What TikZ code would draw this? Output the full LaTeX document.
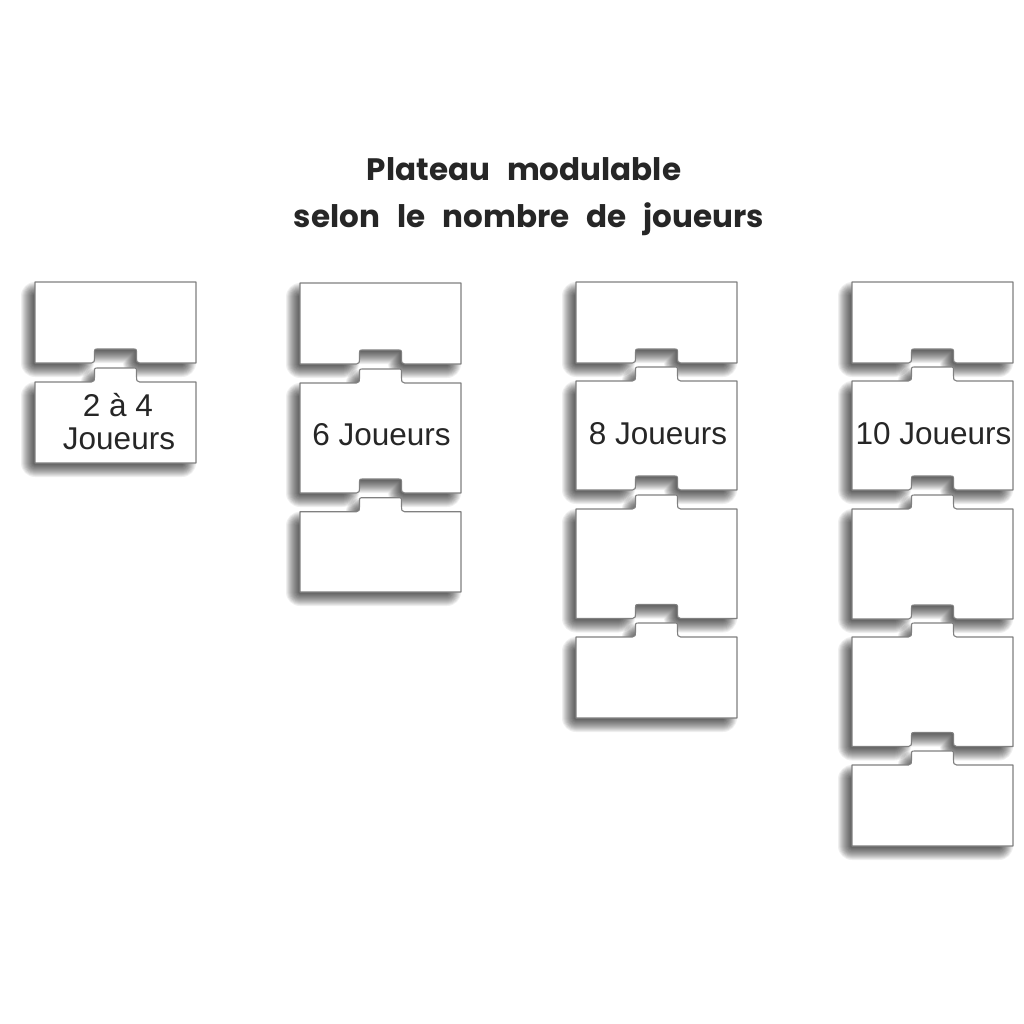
\documentclass[tikz,border=0pt]{standalone}
\usepackage{fontspec}
\setmainfont{Liberation Sans}
\newfontfamily\titlefont[WordSpace=2.6]{Poppins}

\tikzset{
  piecestyle/.style={fill=white, draw=black!50, line width=1.1pt, line join=round},
  shadowfill/.style={fill=black, opacity=0.6},
  shadowrim/.style={draw=black, opacity=0.0634, line join=round},
  lbl/.style={font=\fontsize{31.5}{32}\selectfont, text=black!85, inner sep=0pt, anchor=base},
  ttl/.style={font=\titlefont\bfseries\fontsize{31}{32}\selectfont, text=black!85, inner sep=0pt, anchor=base},
}

% notch at bottom edge, path running right to left; #1 = centre x, #2 = bottom y, #3 = half width of the sides
\newcommand\notchpath[3]{%
  -- ({#1+#3+3},{#2}) .. controls ({#1+#3},{#2}) and ({#1+#3},{#2-2}) .. ({#1+#3},{#2-5})
  -- ({#1+#3},{#2-10}) .. controls ({#1+#3},{#2-14}) .. ({#1+#3-4},{#2-14})
  -- ({#1-#3+4},{#2-14}) .. controls ({#1-#3},{#2-14}) .. ({#1-#3},{#2-10})
  -- ({#1-#3},{#2-5}) .. controls ({#1-#3},{#2-2}) and ({#1-#3},{#2}) .. ({#1-#3-3},{#2})}
% tab on top edge, path running left to right; #1 = centre x, #2 = top y, #3 = half width of the sides
\newcommand\tabpath[3]{%
  -- ({#1-#3-3},{#2}) .. controls ({#1-#3},{#2}) and ({#1-#3},{#2-2}) .. ({#1-#3},{#2-5})
  -- ({#1-#3},{#2-10}) .. controls ({#1-#3},{#2-14}) .. ({#1-#3+4},{#2-14})
  -- ({#1+#3-4},{#2-14}) .. controls ({#1+#3},{#2-14}) .. ({#1+#3},{#2-10})
  -- ({#1+#3},{#2-5}) .. controls ({#1+#3},{#2-2}) and ({#1+#3},{#2}) .. ({#1+#3+3},{#2})}

% draws the piece \pth with a soft drop shadow built on the inset outline \sth
\newcommand\drawpiece{%
  \begin{scope}[shift={(-7,7)}]
    \path[shadowfill] \sth;
    \begin{scope}[even odd rule]
      \clip (-60,-60) rectangle (1100,1100) \sth;
      \foreach \w in {2,4,...,28} {\path[shadowrim, line width=\w pt] \sth;}
    \end{scope}
  \end{scope}
  \path[piecestyle] \pth;}

\newcommand\piecetop[3]{%
  \def\pth{(#1,#2) -- ({#1+161},#2) -- ({#1+161},#3) \notchpath{#1+80.5}{#3}{21} -- (#1,#3) -- cycle}%
  \def\sth{({#1+7},{#2+7}) -- ({#1+154},{#2+7}) -- ({#1+154},{#3-7}) \notchpath{#1+80.5}{#3-7}{28} -- ({#1+7},{#3-7}) -- cycle}%
  \drawpiece}
\newcommand\piecemid[3]{%
  \def\pth{(#1,#2) \tabpath{#1+80.5}{#2}{21} -- ({#1+161},#2) -- ({#1+161},#3) \notchpath{#1+80.5}{#3}{21} -- (#1,#3) -- cycle}%
  \def\sth{({#1+7},{#2+7}) \tabpath{#1+80.5}{#2+7}{14} -- ({#1+154},{#2+7}) -- ({#1+154},{#3-7}) \notchpath{#1+80.5}{#3-7}{28} -- ({#1+7},{#3-7}) -- cycle}%
  \drawpiece}
\newcommand\piecebot[3]{%
  \def\pth{(#1,#2) \tabpath{#1+80.5}{#2}{21} -- ({#1+161},#2) -- ({#1+161},#3) -- (#1,#3) -- cycle}%
  \def\sth{({#1+7},{#2+7}) \tabpath{#1+80.5}{#2+7}{14} -- ({#1+154},{#2+7}) -- ({#1+154},{#3-7}) -- ({#1+7},{#3-7}) -- cycle}%
  \drawpiece}

\begin{document}
\begin{tikzpicture}[x=1pt, y=-1pt]
  \useasboundingbox (0,0) rectangle (1024,1024);
  \fill[white] (0,0) rectangle (1024,1024);

  % title
  \node[ttl] (t1) at (524,181) {Plateau modulable};
  \node[ttl] (t2) at (529,228) {selon le nombre de joueurs};

  % column 1
  \piecetop{35}{282}{363}
  \piecebot{35}{382}{463}
  \node[lbl] (c1a) at (118,416.7) {2 à 4};
  \node[lbl] (c1b) at (119,449) {Joueurs};

  % column 2
  \piecetop{300}{283}{364}
  \piecemid{300}{383}{493}
  \piecebot{300}{511.7}{592}
  \node[lbl] (c2) at (381.5,445) {6 Joueurs};

  % column 3
  \piecetop{576}{282}{363}
  \piecemid{576}{381}{490}
  \piecemid{576}{509}{618.5}
  \piecebot{576}{637}{718}
  \node[lbl] (c3) at (658,444) {8 Joueurs};

  % column 4
  \piecetop{852}{282}{363}
  \piecemid{852}{381}{490}
  \piecemid{852}{509}{619}
  \piecemid{852}{637}{746.5}
  \piecebot{852}{765}{846}
  \node[lbl] (c4) at (933.5,444) {10 Joueurs};
\end{tikzpicture}
\end{document}
